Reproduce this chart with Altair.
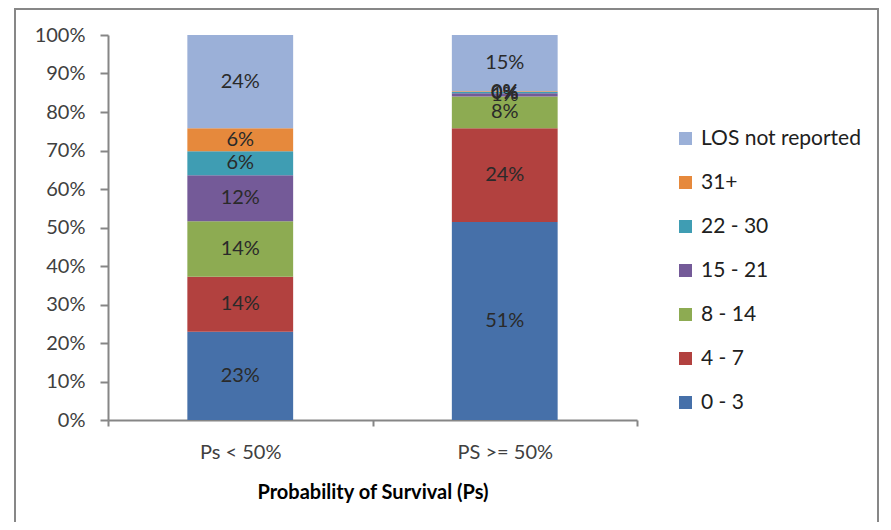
import altair as alt
import pandas as pd

categories = ["Ps < 50%", "PS >= 50%"]
los_groups = ["0 - 3", "4 - 7", "8 - 14", "15 - 21", "22 - 30", "31+", "LOS not reported"]
values_low = [22.9, 14.3, 14.4, 12.0, 6.2, 6.0, 24.2]
values_high = [51.4, 24.4, 8.2, 0.9, 0.3, 0.2, 14.6]
colors = ["#4670A9", "#B2413F", "#8DAB52", "#745A98", "#3F9DB3", "#E6893C", "#9BB0D8"]
y_ticks = list(range(0, 101, 10))

rows = []
for cat, vals in zip(categories, [values_low, values_high]):
    for i, (g, v) in enumerate(zip(los_groups, vals)):
        rows.append({"cat": cat, "group": g, "idx": i, "value": v})
df = pd.DataFrame(rows)

FONT = "Lato"
TXT = "#404040"
FS = 20

base = alt.Chart(df).transform_stack(
    stack="value", groupby=["cat"], sort=[alt.SortField("idx", order="ascending")], as_=["y0", "y1"]
).transform_calculate(
    mid="(datum.y0 + datum.y1) / 2",
    label="format(datum.value, '.0f') + '%'"
)

x_axis = alt.Axis(labelAngle=0, tickBand="extent", tickSize=6, labelPadding=16,
                  labelFontSize=FS, labelColor=TXT, titleFontSize=FS, titleFontWeight="bold",
                  titleColor="#000000", titlePadding=20, domainColor="#868686", domainWidth=2,
                  tickColor="#868686", tickWidth=2, labelFont=FONT, titleFont=FONT)
x_scale = alt.Scale(paddingInner=0, paddingOuter=0)
y_axis = alt.Axis(values=y_ticks, labelExpr="datum.value + '%'",
                  labelOverlap=False, grid=False, tickSize=8, labelPadding=15,
                  labelFontSize=FS, labelColor=TXT, labelFont=FONT,
                  domainColor="#868686", domainWidth=2,
                  tickColor="#868686", tickWidth=2)
y_scale = alt.Scale(domain=[0, 100], nice=False)
XT = "Probability of Survival (Ps)"

bars = base.mark_bar(width=alt.RelativeBandSize(0.4)).encode(
    x=alt.X("cat:N", sort=categories, title=XT, scale=x_scale, axis=x_axis),
    y=alt.Y("y0:Q", title=None, scale=y_scale, axis=y_axis),
    y2="y1:Q",
    color=alt.Color("group:N", title=None,
                    scale=alt.Scale(domain=los_groups[::-1], range=colors[::-1]),
                    legend=alt.Legend(orient="none", legendX=567, legendY=93, symbolType="square",
                                      symbolSize=169, symbolStrokeWidth=0, labelFontSize=FS + 1,
                                      labelFont=FONT, labelColor="#202020", labelOffset=5,
                                      rowPadding=22, padding=0)),
)

labels = base.mark_text(fontSize=FS, font=FONT, color="#2a2a2a").encode(
    x=alt.X("cat:N", sort=categories, title=XT, scale=x_scale, axis=x_axis),
    y=alt.Y("mid:Q", title=None, scale=y_scale, axis=y_axis),
    text="label:N",
)

frame = alt.Chart(df).mark_rect(fill=None, stroke="#878787", strokeWidth=2).encode(
    x=alt.value(-93), x2=alt.value(770), y=alt.value(-26), y2=alt.value(600)
)

chart = alt.layer(bars, labels, frame).properties(
    width=529, height=385,
    background="white",
    autosize=alt.AutoSizeParams(type="none"),
    padding={"left": 100, "top": 27, "right": 246, "bottom": 102},
).configure_view(stroke=None)

chart.save("out.html", embed_options={"renderer": "svg", "actions": False})
